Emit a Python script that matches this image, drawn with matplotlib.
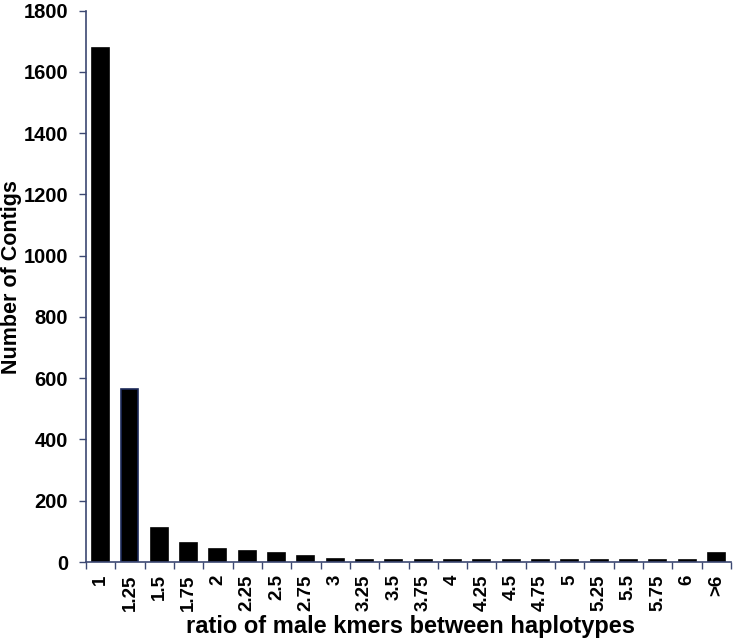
"""Histogram of contig counts by haplotype kmer ratio."""

import matplotlib
matplotlib.use("Agg")
import matplotlib.pyplot as plt
import numpy as np

ratio_labels = ["1", "1.25", "1.5", "1.75", "2", "2.25", "2.5", "2.75", "3",
                "3.25", "3.5", "3.75", "4", "4.25", "4.5", "4.75", "5",
                "5.25", "5.5", "5.75", "6", ">6"]
contig_counts = [1677, 564, 112, 63, 42, 37, 28, 19, 11,
                 5, 5, 5, 5, 5, 5, 5, 5,
                 5, 5, 5, 5, 31]

AXIS_COLOR = "#3c4872"

plt.rcParams["font.family"] = ["Liberation Sans", "DejaVu Sans"]
plt.rcParams["font.weight"] = "bold"

W, H = 739, 642
fig = plt.figure(figsize=(W / 100, H / 100), dpi=100)
ax = fig.add_axes([86 / W, 1 - 562 / H, (731 - 86) / W, (562 - 10.7) / H])

x = np.arange(len(ratio_labels))
edges = ["black"] * len(ratio_labels)
edges[1] = "#1c2a5a"
ax.bar(x, contig_counts, width=0.58, color="black", edgecolor=edges, linewidth=1.2)

ax.set_xlim(-0.5, len(ratio_labels) - 0.5)
ax.set_ylim(0, 1800)
ax.set_yticks(np.arange(0, 1801, 200))

# ticks between categories, labels centred under bars
ax.set_xticks(np.arange(-0.5, len(ratio_labels), 1.0))
ax.set_xticklabels([])
ax.set_xticks(x, minor=True)
ax.set_xticklabels(ratio_labels, minor=True, rotation=90, fontsize=13.5,
                   fontweight="bold")
ax.tick_params(axis="x", which="minor", length=0, pad=9)
ax.tick_params(axis="x", which="major", length=5, width=1, color=AXIS_COLOR)
ax.tick_params(axis="y", length=5, width=1, color=AXIS_COLOR, labelsize=14.5, pad=8)
for lbl in ax.get_yticklabels():
    lbl.set_fontweight("bold")

for side in ["top", "right"]:
    ax.spines[side].set_visible(False)
for side in ["left", "bottom"]:
    ax.spines[side].set_color(AXIS_COLOR)
    ax.spines[side].set_linewidth(1.2)

fig.text(12 / W, 1 - 277 / H, "Number of Contigs", rotation=90, fontsize=15.5,
         fontweight="bold", ha="center", va="center")
fig.text(410 / W, 1 - 633 / H, "ratio of male kmers between haplotypes",
         fontsize=17, fontweight="bold", ha="center", va="baseline")

fig.savefig("out.png", dpi=100)
